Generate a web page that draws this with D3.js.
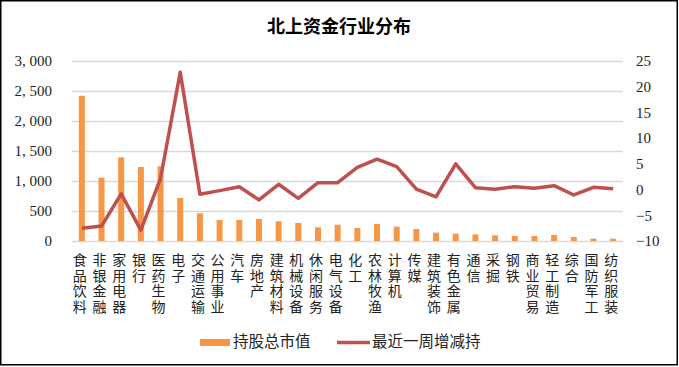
<!DOCTYPE html>
<html>
<head>
<meta charset="utf-8">
<script src="https://cdn.jsdelivr.net/npm/d3@7"></script>
<style>
  body { margin: 0; background: #fff; }
  svg { display: block; }
</style>
</head>
<body>
<script>
// Data
const industries = ["食品饮料", "非银金融", "家用电器", "银行", "医药生物", "电子", "交通运输", "公用事业",
  "汽车", "房地产", "建筑材料", "机械设备", "休闲服务", "电气设备", "化工", "农林牧渔", "计算机",
  "传媒", "建筑装饰", "有色金属", "通信", "采掘", "钢铁", "商业贸易", "轻工制造", "综合", "国防军工", "纺织服装"];
const marketValue = [2420, 1055, 1395, 1233, 1245, 717, 461, 350, 350, 367, 328, 300, 228, 272, 217,
  283, 239, 200, 139, 122, 111, 94, 83, 83, 100, 67, 39, 39];
const weeklyChange = [-7.5, -7.1, -0.85, -7.9, 2.2, 22.8, -0.9, -0.2, 0.56, -2.0, 1.03, -1.7, 1.34, 1.34, 4.3,
  5.9, 4.45, 0.1, -1.4, 5.0, 0.37, 0.06, 0.56, 0.25, 0.76, -1.05, 0.45, 0.18];
const leftTicks = [0, 500, 1000, 1500, 2000, 2500, 3000];
const rightTicks = [-10, -5, 0, 5, 10, 15, 20, 25];
const seriesNames = ["持股总市值", "最近一周增减持"];

let width = 679, height = 367;
let margin = { top: 61, bottom: 126, left: 72, right: 56 };

const barColor = "#F79646", lineColor = "#C0504D";
const numFont = "'Liberation Serif', 'Times New Roman', serif";
const cjkFont = "'Noto Sans CJK SC', sans-serif";

let svg = d3.select('body')
  .append('svg')
  .attr('width', width)
  .attr('height', height);

// frame
svg.append('rect')
  .attr('x', 0.75).attr('y', 0.75)
  .attr('width', 676.5).attr('height', 364)
  .attr('fill', '#fff')
  .attr('stroke', '#000')
  .attr('stroke-width', 1.5);

// title
svg.append('text')
  .attr('x', 339).attr('y', 33)
  .attr('text-anchor', 'middle')
  .style('font-family', cjkFont)
  .style('font-size', '18px')
  .style('font-weight', 'bold')
  .style('fill', '#000')
  .text('北上资金行业分布');

// scales
let xScale = d3.scaleBand()
  .domain(industries)
  .range([margin.left, width - margin.right]);

let yLeft = d3.scaleLinear()
  .domain([0, 3000])
  .range([height - margin.bottom, margin.top]);

let yRight = d3.scaleLinear()
  .domain([-10, 25])
  .range([height - margin.bottom, margin.top]);

// gridlines
let grid = svg.append('g')
  .attr('transform', `translate(${margin.left}, 0)`)
  .call(d3.axisLeft(yLeft).tickValues(leftTicks).tickSize(-(width - margin.left - margin.right)).tickFormat(''));
grid.select('.domain').remove();
grid.selectAll('line').attr('stroke', '#D9D9D9').attr('stroke-width', 1.5);

// left axis
let yAxisLeft = svg.append('g')
  .attr('transform', `translate(${margin.left}, 0)`)
  .call(d3.axisLeft(yLeft).tickValues(leftTicks).tickSize(0).tickPadding(20)
    .tickFormat(d => d3.format(',')(d).replace(',', ', ')));
yAxisLeft.select('.domain').remove();
yAxisLeft.selectAll('text')
  .style('font-family', numFont).style('font-size', '15px').style('fill', '#222');

// right axis
let yAxisRight = svg.append('g')
  .attr('transform', `translate(${width - margin.right}, 0)`)
  .call(d3.axisRight(yRight).tickValues(rightTicks).tickSize(0).tickPadding(13));
yAxisRight.select('.domain').remove();
yAxisRight.selectAll('text')
  .style('font-family', numFont).style('font-size', '15px').style('fill', '#222');

// bars
const barW = 6;
svg.selectAll('rect.bar')
  .data(marketValue)
  .enter()
  .append('rect')
  .attr('class', 'bar')
  .attr('x', (d, i) => xScale(industries[i]) + xScale.bandwidth() / 2 - barW / 2)
  .attr('y', d => yLeft(d))
  .attr('width', barW)
  .attr('height', d => yLeft(0) - yLeft(d))
  .attr('fill', barColor);

// line
let line = d3.line()
  .x((d, i) => xScale(industries[i]) + xScale.bandwidth() / 2)
  .y(d => yRight(d));

svg.append('path')
  .datum(weeklyChange)
  .attr('d', line)
  .attr('fill', 'none')
  .attr('stroke', lineColor)
  .attr('stroke-width', 3.5)
  .attr('stroke-linejoin', 'round');

// category labels (vertical, upright)
svg.append('g')
  .selectAll('text')
  .data(industries)
  .enter()
  .append('text')
  .attr('x', d => xScale(d) + xScale.bandwidth() / 2 - 2)
  .attr('y', 253)
  .style('writing-mode', 'vertical-rl')
  .style('font-family', cjkFont)
  .style('font-size', '14px')
  .style('letter-spacing', '1.5px')
  .style('fill', '#222')
  .text(d => d);

// legend
let legend = svg.append('g');
legend.append('rect')
  .attr('x', 200).attr('y', 339)
  .attr('width', 30).attr('height', 7)
  .attr('fill', barColor);
legend.append('text')
  .attr('x', 233).attr('y', 343)
  .attr('dominant-baseline', 'middle')
  .style('font-family', cjkFont).style('font-size', '15.5px').style('fill', '#222')
  .text(seriesNames[0]);
legend.append('line')
  .attr('x1', 337).attr('x2', 370)
  .attr('y1', 342.5).attr('y2', 342.5)
  .attr('stroke', lineColor).attr('stroke-width', 3.5);
legend.append('text')
  .attr('x', 372).attr('y', 343)
  .attr('dominant-baseline', 'middle')
  .style('font-family', cjkFont).style('font-size', '15.5px').style('fill', '#222')
  .text(seriesNames[1]);
</script>
</body>
</html>
